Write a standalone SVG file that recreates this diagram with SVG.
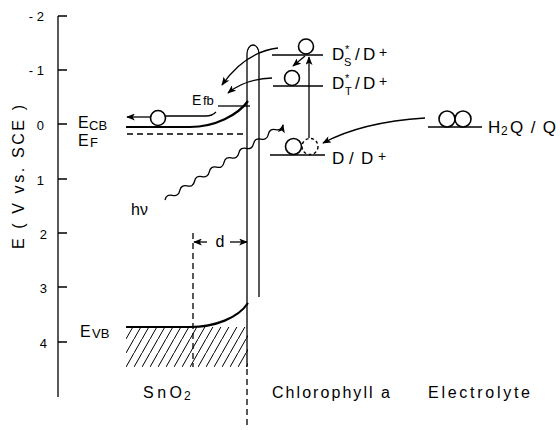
<svg xmlns="http://www.w3.org/2000/svg" width="560" height="430" viewBox="0 0 560 430">
<style>
.ln{fill:none;stroke:#000;stroke-width:1.3}
.thick{fill:none;stroke:#000;stroke-width:2.2}
.lvl{fill:none;stroke:#000;stroke-width:1.6}
.dash{fill:none;stroke:#000;stroke-width:1.3;stroke-dasharray:6 4}
.circ{fill:#fff;stroke:#000;stroke-width:1.6}
.circd{fill:#fff;stroke:#000;stroke-width:1.4;stroke-dasharray:3 2.5}
.arr{fill:none;stroke:#000;stroke-width:1.3;marker-end:url(#ah)}
text{font-family:"Liberation Sans",Arial,sans-serif;fill:#000}
.t{font-size:16px}
.L{font-size:17px}
.E{font-size:16px}
.tk{font-size:13px}
.sub{font-size:12px}
.sb{font-size:13px}
.st{font-size:11px}
.pl{font-size:14px}
</style>
<defs>
<marker id="ah" viewBox="0 0 10 8" refX="9" refY="4" markerWidth="9" markerHeight="7" markerUnits="userSpaceOnUse" orient="auto">
<path d="M0,0 L10,4 L0,8 L2.5,4 Z" fill="#000"/>
</marker>
<pattern id="hatch" patternUnits="userSpaceOnUse" width="8" height="14" x="126" y="367">
<line x1="0" y1="14" x2="8" y2="0" stroke="#000" stroke-width="1"/>
</pattern>
<clipPath id="vbclip">
<path d="M126,327 L190,327 C215,327 238,318 248,303 L248,367 L126,367 Z"/>
</clipPath>
</defs>
<rect width="560" height="430" fill="#fff"/>

<g id="axis">
<path class="ln" d="M58,16 L58,397 M58,16 L67,16 M58,70 L67,70 M58,124 L67,124 M58,179 L67,179 M58,233 L67,233 M58,287 L67,287 M58,342 L67,342"/>
<text class="tk" x="44" y="21" text-anchor="end">- 2</text>
<text class="tk" x="44" y="75" text-anchor="end">- 1</text>
<text class="tk" x="44" y="130" text-anchor="end">0</text>
<text class="tk" x="44" y="185" text-anchor="end">1</text>
<text class="tk" x="47" y="239" text-anchor="end">2</text>
<text class="tk" x="47" y="293" text-anchor="end">3</text>
<text class="tk" x="47" y="348" text-anchor="end">4</text>
<text class="t" transform="translate(24,249) rotate(-90)" textLength="144" lengthAdjust="spacing">E   ( V vs. SCE )</text>
</g>

<g id="sno2">
<path d="M126,327 L248,327 L248,367 L126,367 Z" fill="url(#hatch)" clip-path="url(#vbclip)"/>
<path class="thick" d="M126,127 L190,127 C215,127 238,115 248,101"/>
<path class="thick" d="M126,327 L190,327 C215,327 238,318 248,303"/>
<path class="dash" d="M127,134 L244,134"/>
<path class="ln" d="M218,106 L250,106"/>
<path class="dash" d="M193,233 L193,367"/>
<circle class="circ" cx="158" cy="118" r="7.5"/>
<path class="arr" d="M150,117 L127,117"/>
<path class="ln" d="M166,116 L206,116 Q212,116 216,112"/>
<text class="E" x="78" y="127.5">E</text>
<text class="sb" x="89" y="129.5">CB</text>
<text class="E" x="78" y="145.5">E</text>
<text class="sb" x="90" y="146.5">F</text>
<text class="E" x="80" y="337">E</text>
<text class="sb" x="92" y="338">VB</text>
<text class="pl" x="192" y="105">E</text>
<text class="sb" x="203" y="105">fb</text>
<text class="t" x="131" y="215">hν</text>
<text class="t" x="143" y="398" textLength="39" lengthAdjust="spacing">SnO</text>
<text class="sub" x="184" y="400">2</text>
<path class="arr" d="M207,242 L194,242"/>
<path class="arr" d="M230,242 L247,242"/>
<text class="t" x="220" y="247" text-anchor="middle">d</text>
</g>

<g id="chlorophyll">
<path class="ln" d="M247,367 L247,54 A6,9 0 0 1 259,54 L259,297"/>
<path class="dash" d="M247,369 L247,428"/>
<path class="lvl" d="M272,55 L323,55"/>
<path class="lvl" d="M273,86 L323,86"/>
<path class="lvl" d="M270,155 L325,155"/>
<circle class="circ" cx="306" cy="46.5" r="7.5"/>
<circle class="circ" cx="292" cy="78" r="7.5"/>
<circle class="circd" cx="310" cy="146.5" r="8"/>
<circle class="circ" cx="293.5" cy="146.5" r="8"/>
<text class="L" x="332" y="60">D</text>
<text class="st" x="345" y="53">*</text>
<text class="st" x="344" y="66">S</text>
<text class="L" x="355" y="60">/</text>
<text class="L" x="363" y="60">D</text>
<text class="pl" x="379" y="57">+</text>
<text class="L" x="332" y="89">D</text>
<text class="st" x="345" y="82">*</text>
<text class="st" x="345" y="95">T</text>
<text class="L" x="355" y="89">/</text>
<text class="L" x="363" y="89">D</text>
<text class="pl" x="379" y="86">+</text>
<text class="L" x="332" y="164">D</text>
<text class="L" x="349" y="164">/</text>
<text class="L" x="361" y="164">D</text>
<text class="pl" x="378" y="161">+</text>
<text class="t" x="272" y="398" textLength="118" lengthAdjust="spacing">Chlorophyll a</text>
</g>

<g id="electrolyte">
<path class="lvl" d="M428,127 L482,127"/>
<circle class="circ" cx="447" cy="119" r="8"/>
<circle class="circ" cx="463" cy="119" r="8"/>
<text class="L" x="488" y="133">H</text>
<text class="sub" x="501" y="135">2</text>
<text class="L" x="510" y="133" textLength="46" lengthAdjust="spacing">Q / Q</text>
<text class="t" x="428" y="398" textLength="102" lengthAdjust="spacing">Electrolyte</text>
</g>

<g id="connectors">
<path class="arr" d="M309,138 L309,57"/>
<path class="arr" d="M305,56 L293,66"/>
<path class="arr" d="M278,48 Q245,52 222,85"/>
<path class="arr" d="M272,78 Q245,79 228,93"/>
<path class="arr" d="M425,118 Q362,122 323,143"/>
<path class="arr" d="M165,200 q1.33,-6.06 7.38,-4.69 t7.38,-4.69 t7.38,-4.69 t7.38,-4.69 t7.38,-4.69 t7.38,-4.69 t7.38,-4.69 t7.38,-4.69 t7.38,-4.69 t7.38,-4.69 t7.38,-4.69 t7.38,-4.69 t7.38,-4.69 t7.38,-4.69 t7.38,-4.69 t7.38,-4.69"/>
</g>
</svg>
